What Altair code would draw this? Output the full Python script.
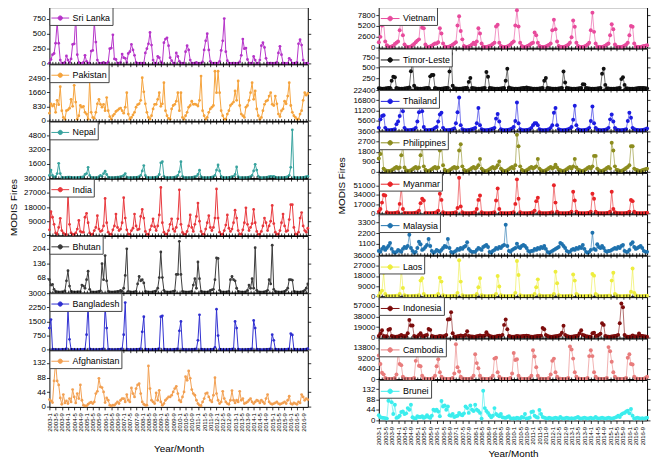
import altair as alt
import pandas as pd

FONT = "Liberation Sans"
MONTHS = list(range(168))
LABEL_MONTHS = list(range(0, 168, 4))
MINOR_MONTHS = list(range(0, 168, 2))

# ---------------- South Asia (left) ----------------
SRI_LANKA = [
    10, 70, 150, 170, 340, 690, 340, 60, 10, 5, 20, 130,
    60, 20, 80, 320, 330, 780, 150, 20, 5, 5, 20, 140,
    40, 10, 5, 210, 220, 690, 360, 60, 10, 5, 10, 20,
    5, 5, 30, 250, 260, 480, 80, 70, 10, 5, 20, 160,
    100, 90, 20, 170, 200, 320, 230, 140, 20, 5, 5, 10,
    5, 10, 180, 250, 330, 520, 310, 60, 10, 5, 120, 100,
    30, 5, 350, 410, 430, 300, 100, 50, 10, 5, 180, 120,
    40, 10, 5, 10, 200, 300, 230, 60, 10, 5, 10, 20,
    5, 5, 10, 30, 230, 380, 500, 230, 40, 10, 5, 10,
    5, 10, 40, 220, 380, 750, 200, 50, 10, 5, 5, 10,
    5, 5, 10, 30, 140, 410, 250, 260, 70, 10, 5, 10,
    120, 60, 5, 10, 60, 300, 350, 270, 90, 10, 5, 10,
    5, 5, 10, 20, 180, 290, 150, 10, 5, 5, 5, 90,
    60, 10, 5, 10, 20, 330, 400, 310, 60, 5, 5, 10,
]
PAKISTAN = [
    450, 1000, 870, 970, 500, 1200, 950, 2000, 600, 200, 100, 600,
    650, 740, 1260, 850, 2080, 1100, 100, 300, 900, 800, 850, 500,
    400, 100, 2370, 500, 200, 150, 500, 1000, 1260, 970, 800, 970,
    600, 1360, 600, 250, 100, 300, 400, 550, 620, 700, 750, 600,
    450, 800, 1650, 400, 100, 200, 350, 500, 800, 950, 1000, 1200,
    2520, 1700, 1000, 500, 200, 100, 300, 700, 970, 970, 1260, 1650,
    850, 1000, 2230, 600, 300, 150, 100, 700, 900, 970, 1150, 1650,
    600, 1650, 200, 100, 300, 500, 800, 900, 1150, 970, 980, 950,
    870, 1200, 2620, 600, 300, 100, 200, 500, 700, 800, 900, 2900,
    1650, 2900, 1650, 600, 300, 100, 100, 400, 600, 900, 1000, 1100,
    1750, 1200, 2330, 900, 400, 300, 200, 800, 900, 1200, 1650, 2230,
    1260, 1750, 700, 300, 100, 200, 600, 970, 1150, 1200, 1450, 1650,
    970, 900, 1450, 1000, 400, 250, 600, 700, 1150, 1000, 1450, 2230,
    900, 500, 300, 200, 100, 100, 400, 600, 1200, 1650, 1500, 1600,
]
NEPAL = [
    300, 900, 300, 100, 150, 500, 1650, 500, 80, 50, 60, 80,
    100, 120, 80, 50, 40, 50, 60, 80, 100, 120, 150, 400,
    500, 1200, 300, 80, 50, 40, 50, 60, 150, 300, 200, 500,
    770, 400, 100, 50, 40, 50, 60, 80, 100, 120, 150, 200,
    300, 500, 100, 50, 40, 50, 60, 70, 90, 100, 150, 300,
    800, 1400, 300, 80, 50, 40, 50, 60, 80, 100, 150, 400,
    1700, 1830, 200, 60, 40, 40, 50, 60, 80, 100, 150, 300,
    700, 1830, 200, 60, 40, 40, 50, 60, 80, 100, 150, 200,
    400, 880, 150, 60, 40, 40, 50, 60, 80, 100, 150, 300,
    900, 1460, 800, 200, 50, 40, 50, 60, 80, 100, 150, 200,
    400, 1240, 150, 60, 40, 40, 50, 60, 80, 100, 150, 300,
    800, 1540, 900, 200, 50, 40, 50, 60, 80, 100, 150, 200,
    150, 200, 100, 60, 40, 40, 50, 60, 80, 100, 150, 300,
    1200, 5380, 100, 60, 40, 40, 50, 60, 80, 100, 150, 200,
]
INDIA = [
    3500, 15000, 11500, 7000, 1500, 800, 5000, 10800, 3000, 1500, 600, 500,
    27500, 7000, 1500, 600, 500, 1500, 4000, 9500, 2500, 2000, 2000, 11500,
    14000, 8000, 1500, 500, 800, 3000, 5000, 12500, 4000, 2500, 3000, 6000,
    23500, 8000, 2000, 800, 500, 3500, 6000, 13500, 5000, 3000, 4000, 8000,
    24000, 11000, 3500, 800, 600, 3000, 4500, 13500, 6000, 3500, 4000, 12000,
    16500, 11000, 2500, 800, 500, 3500, 6000, 10500, 5500, 3000, 6000, 13000,
    30500, 8000, 2000, 700, 800, 3000, 7000, 10500, 4000, 2500, 5000, 10500,
    29000, 7000, 1800, 700, 800, 2500, 6000, 13000, 5000, 2500, 7000, 12000,
    20500, 9000, 2500, 800, 600, 4000, 8000, 12500, 5000, 3000, 5000, 11000,
    29500, 11000, 2000, 600, 700, 3000, 6500, 13000, 4500, 2500, 4000, 8000,
    16000, 11000, 3000, 800, 700, 3500, 8000, 17500, 7000, 3000, 5000, 7500,
    16500, 8000, 2500, 600, 800, 2500, 6000, 11000, 8000, 3000, 6000, 9000,
    19000, 7500, 2000, 700, 800, 3000, 8000, 13500, 6000, 2500, 3000, 10000,
    19500, 19500, 5000, 800, 700, 2000, 11000, 14500, 6000, 3000, 2000, 4500,
]
BHUTAN = [
    60, 35, 38, 15, 5, 3, 2, 2, 3, 3, 8, 55,
    102, 30, 5, 3, 2, 2, 3, 3, 3, 35, 30, 20,
    60, 100, 15, 3, 2, 2, 2, 3, 5, 8, 135, 60,
    173, 55, 5, 3, 2, 2, 3, 3, 5, 5, 10, 5,
    20, 80, 205, 5, 3, 2, 2, 3, 5, 40, 75, 55,
    60, 45, 5, 3, 2, 2, 2, 3, 5, 8, 20, 70,
    190, 70, 10, 3, 2, 2, 2, 3, 5, 8, 85, 85,
    240, 85, 5, 3, 2, 2, 2, 3, 5, 35, 65, 20,
    143, 65, 5, 3, 2, 2, 2, 3, 10, 12, 15, 60,
    162, 160, 10, 3, 2, 2, 2, 3, 5, 60, 75, 60,
    55, 20, 5, 3, 2, 2, 2, 3, 10, 35, 20, 65,
    20, 210, 10, 3, 2, 2, 2, 3, 5, 10, 60, 40,
    222, 15, 5, 3, 2, 2, 2, 3, 5, 10, 20, 60,
    60, 58, 5, 3, 2, 2, 2, 3, 5, 10, 20, 40,
]
BANGLADESH = [
    1150, 1600, 30, 10, 5, 5, 5, 5, 10, 10, 20, 50,
    2150, 550, 20, 10, 5, 5, 5, 5, 10, 10, 20, 30,
    800, 2400, 40, 10, 5, 5, 5, 5, 10, 20, 30, 40,
    2300, 1150, 20, 10, 5, 5, 5, 5, 10, 20, 30, 40,
    800, 2500, 30, 10, 5, 5, 5, 5, 10, 20, 30, 40,
    950, 1750, 30, 10, 5, 5, 5, 5, 10, 20, 30, 60,
    1750, 1800, 30, 10, 5, 5, 5, 5, 10, 20, 30, 40,
    1000, 1500, 30, 10, 5, 5, 5, 5, 10, 20, 30, 40,
    500, 1850, 30, 10, 5, 5, 5, 5, 10, 20, 30, 120,
    2150, 750, 30, 10, 5, 5, 5, 5, 10, 20, 30, 40,
    1500, 1150, 30, 10, 5, 5, 5, 5, 10, 20, 30, 40,
    1550, 1150, 30, 10, 5, 5, 5, 5, 10, 20, 30, 40,
    800, 500, 30, 10, 5, 5, 5, 5, 10, 20, 30, 40,
    850, 780, 30, 10, 5, 5, 5, 5, 10, 20, 30, 60,
]
AFGHANISTAN = [
    22, 18, 13, 78, 135, 78, 66, 27, 8, 37, 12, 18,
    10, 25, 15, 52, 30, 12, 40, 25, 66, 20, 5, 3,
    3, 8, 12, 14, 10, 15, 40, 47, 86, 60, 58, 45,
    13, 27, 20, 5, 3, 5, 5, 10, 15, 10, 20, 25,
    25, 15, 37, 20, 15, 57, 40, 30, 55, 66, 70, 40,
    15, 8, 5, 5, 123, 55, 20, 15, 10, 42, 20, 50,
    15, 5, 10, 20, 25, 30, 30, 35, 45, 55, 62, 40,
    20, 15, 30, 45, 91, 80, 108, 86, 52, 40, 35, 20,
    10, 5, 3, 15, 25, 40, 42, 30, 20, 15, 35, 88,
    40, 20, 10, 15, 47, 25, 15, 10, 8, 20, 49, 20,
    12, 20, 15, 47, 20, 25, 10, 12, 15, 20, 25, 15,
    10, 15, 20, 18, 12, 20, 15, 10, 25, 37, 15, 10,
    8, 10, 12, 15, 10, 8, 10, 12, 15, 10, 20, 32,
    10, 8, 12, 10, 8, 15, 12, 37, 30, 20, 25, 22,
]

# ---------------- Southeast Asia (right) ----------------
VIETNAM = [
    1300, 2600, 5300, 5900, 1500, 600, 300, 200, 300, 500, 900, 1200,
    1500, 4200, 7550, 3000, 800, 300, 200, 200, 300, 600, 900, 1300,
    1700, 2000, 6500, 4800, 4650, 800, 300, 200, 300, 500, 800, 1000,
    1000, 1300, 4650, 3400, 1000, 300, 200, 200, 300, 500, 700, 1000,
    1300, 5300, 7550, 4000, 2000, 400, 200, 200, 300, 500, 800, 1200,
    800, 1500, 4650, 3400, 1000, 300, 200, 200, 300, 400, 600, 900,
    1200, 5060, 5480, 1200, 400, 200, 200, 200, 300, 500, 800, 1200,
    1500, 5300, 8960, 5060, 1200, 400, 200, 200, 300, 500, 700, 1000,
    1200, 3650, 3000, 1200, 400, 200, 200, 200, 300, 500, 700, 1000,
    4200, 6700, 4400, 1500, 400, 200, 200, 200, 300, 500, 800, 1200,
    2500, 6500, 5000, 1200, 400, 200, 200, 200, 300, 500, 800, 1200,
    4200, 8400, 3800, 1000, 300, 200, 200, 200, 300, 500, 800, 1000,
    3000, 5600, 4400, 800, 300, 200, 200, 200, 300, 500, 800, 1200,
    3000, 5200, 5000, 1000, 300, 200, 200, 200, 300, 400, 500, 600,
]
TIMOR_LESTE = [
    20, 15, 10, 10, 15, 20, 25, 30, 195, 290, 280, 30,
    15, 10, 10, 10, 15, 20, 25, 40, 420, 630, 80, 20,
    15, 10, 10, 10, 15, 20, 25, 30, 300, 330, 330, 30,
    15, 10, 10, 10, 15, 20, 25, 30, 415, 830, 80, 20,
    15, 10, 10, 10, 15, 20, 25, 30, 170, 260, 30, 20,
    15, 10, 10, 10, 15, 20, 30, 400, 290, 30, 20, 15,
    10, 10, 10, 10, 15, 20, 25, 195, 480, 40, 20, 15,
    10, 10, 10, 10, 15, 20, 25, 30, 40, 30, 20, 15,
    10, 10, 10, 10, 15, 20, 25, 195, 260, 30, 20, 15,
    10, 10, 10, 10, 15, 20, 30, 415, 155, 30, 20, 15,
    10, 10, 10, 10, 15, 20, 25, 115, 110, 30, 20, 15,
    10, 10, 10, 10, 15, 20, 30, 360, 480, 100, 20, 15,
    10, 10, 10, 10, 15, 20, 30, 235, 280, 100, 20, 15,
    10, 10, 10, 10, 15, 20, 25, 30, 30, 25, 20, 15,
]
THAILAND = [
    1500, 6200, 8000, 8500, 1500, 300, 200, 200, 300, 500, 800, 3560,
    5000, 8000, 14800, 10700, 1500, 300, 200, 200, 300, 500, 800, 1500,
    5000, 10100, 15000, 10700, 2000, 300, 200, 200, 300, 500, 800, 1500,
    2000, 5000, 8900, 9800, 1500, 300, 200, 200, 300, 500, 800, 1200,
    4000, 10100, 18300, 3000, 800, 300, 200, 200, 300, 500, 800, 1000,
    1500, 4000, 12500, 3000, 800, 300, 200, 200, 300, 500, 800, 1000,
    1500, 6600, 9200, 5000, 800, 300, 200, 200, 300, 500, 800, 1200,
    2000, 5300, 15500, 4000, 800, 300, 200, 200, 300, 500, 800, 1500,
    3000, 4000, 4000, 3000, 800, 300, 200, 200, 300, 500, 800, 1500,
    3000, 9800, 12500, 3000, 800, 300, 200, 200, 300, 500, 800, 1200,
    2000, 6000, 13700, 3000, 800, 300, 200, 200, 300, 500, 800, 1500,
    5300, 13300, 4000, 1500, 600, 300, 200, 200, 300, 500, 800, 1500,
    6200, 8900, 5000, 1500, 600, 300, 200, 200, 300, 500, 800, 5300,
    9800, 7100, 1500, 800, 500, 300, 200, 200, 300, 500, 800, 1200,
]
PHILIPPINES = [
    1200, 1600, 2300, 300, 150, 100, 100, 100, 150, 250, 350, 450,
    300, 400, 1490, 2330, 400, 150, 100, 100, 150, 250, 350, 450,
    300, 400, 1490, 2330, 500, 200, 100, 100, 150, 250, 350, 450,
    300, 400, 1900, 2470, 600, 200, 100, 100, 150, 250, 350, 450,
    300, 400, 1900, 2470, 500, 200, 100, 100, 150, 250, 350, 450,
    300, 400, 600, 1160, 300, 150, 100, 100, 150, 250, 350, 450,
    300, 400, 600, 930, 300, 150, 100, 100, 150, 250, 350, 450,
    300, 600, 3300, 2280, 500, 200, 100, 100, 150, 250, 350, 450,
    300, 400, 500, 1150, 300, 150, 100, 100, 150, 250, 350, 450,
    300, 400, 650, 400, 200, 150, 100, 100, 150, 250, 350, 450,
    300, 500, 1150, 400, 200, 150, 100, 100, 150, 250, 350, 450,
    300, 500, 1430, 1430, 300, 150, 100, 100, 150, 250, 350, 450,
    300, 2600, 1900, 500, 200, 150, 100, 100, 150, 250, 350, 450,
    600, 2280, 2280, 300, 200, 150, 100, 100, 150, 200, 250, 300,
]
MYANMAR = [
    3000, 8000, 20000, 34000, 33000, 2000, 500, 300, 300, 500, 800, 1500,
    2000, 17600, 49000, 8000, 1000, 500, 300, 300, 300, 500, 800, 1500,
    2000, 5000, 19000, 27000, 24000, 1000, 300, 300, 300, 500, 800, 1500,
    2000, 5000, 36500, 25000, 2000, 500, 300, 300, 300, 500, 800, 1500,
    2000, 10000, 66000, 13000, 2000, 500, 300, 300, 300, 500, 800, 1500,
    2000, 8000, 25000, 33000, 2000, 500, 300, 300, 300, 500, 800, 1500,
    2000, 24000, 46000, 8000, 1000, 500, 300, 300, 300, 500, 800, 1500,
    2000, 17600, 63000, 27000, 2000, 500, 300, 300, 300, 500, 800, 1500,
    2000, 5000, 22700, 29000, 2000, 500, 300, 300, 300, 500, 800, 1500,
    2000, 52000, 20000, 3000, 1000, 500, 300, 300, 300, 500, 800, 1500,
    3000, 40000, 24000, 3000, 1000, 500, 300, 300, 300, 500, 800, 1500,
    3000, 36500, 27000, 3000, 1000, 500, 300, 300, 300, 500, 800, 1500,
    3000, 40000, 8000, 2000, 1000, 500, 300, 300, 300, 500, 800, 1500,
    3000, 25000, 22700, 3000, 1000, 500, 300, 300, 300, 500, 800, 1500,
]
MALAYSIA = [
    400, 300, 600, 800, 500, 700, 900, 1200, 600, 300, 200, 300,
    500, 400, 300, 600, 800, 700, 900, 2030, 700, 400, 200, 300,
    700, 1320, 1070, 500, 600, 800, 1000, 1600, 900, 400, 200, 300,
    500, 400, 300, 500, 700, 900, 800, 1600, 700, 300, 200, 300,
    400, 600, 500, 700, 600, 800, 900, 1265, 600, 400, 300, 300,
    300, 500, 700, 600, 500, 800, 900, 1000, 800, 300, 200, 400,
    500, 700, 600, 800, 700, 900, 1000, 3050, 900, 400, 300, 500,
    600, 700, 1130, 800, 700, 900, 1000, 900, 700, 400, 300, 400,
    400, 600, 500, 700, 600, 800, 700, 900, 600, 300, 200, 300,
    400, 500, 600, 700, 800, 1200, 1100, 900, 700, 400, 300, 300,
    500, 600, 500, 700, 600, 800, 700, 1000, 600, 300, 200, 300,
    500, 2230, 600, 500, 1070, 800, 700, 900, 700, 400, 300, 400,
    400, 500, 600, 700, 600, 800, 700, 900, 1000, 400, 300, 300,
    500, 1100, 1265, 800, 600, 700, 800, 900, 700, 400, 300, 300,
]
LAOS = [
    500, 3000, 5000, 20900, 2000, 300, 100, 100, 100, 200, 300, 500,
    500, 2000, 24600, 7250, 1000, 300, 100, 100, 100, 200, 300, 500,
    500, 1000, 13900, 16000, 2000, 300, 100, 100, 100, 200, 300, 500,
    500, 2000, 16500, 13000, 1000, 300, 100, 100, 100, 200, 300, 500,
    500, 3000, 31900, 13000, 1000, 300, 100, 100, 100, 200, 300, 500,
    500, 2000, 8000, 16000, 1000, 300, 100, 100, 100, 200, 300, 500,
    500, 2000, 18000, 8700, 1000, 300, 100, 100, 100, 200, 300, 500,
    500, 3000, 31300, 18850, 1000, 300, 100, 100, 100, 200, 300, 500,
    500, 2000, 8000, 15000, 1000, 300, 100, 100, 100, 200, 300, 500,
    500, 2000, 21750, 11600, 1000, 300, 100, 100, 100, 200, 300, 500,
    500, 19400, 13900, 2000, 1000, 300, 100, 100, 100, 200, 300, 500,
    500, 19700, 18300, 2000, 1000, 300, 100, 100, 100, 200, 300, 500,
    500, 13900, 20900, 2000, 1000, 300, 100, 100, 100, 200, 300, 500,
    500, 4000, 24600, 3000, 1000, 300, 100, 100, 100, 200, 300, 500,
]
INDONESIA = [
    3000, 7500, 13200, 3000, 2000, 2500, 14400, 15500, 3000, 2000, 1500, 1500,
    2000, 3000, 5000, 3000, 2500, 3000, 8000, 31700, 21900, 22000, 3000, 1500,
    2000, 5000, 8000, 3000, 2500, 4000, 5000, 15500, 14000, 3000, 2000, 1500,
    1500, 2000, 3000, 2500, 2000, 3000, 5000, 32800, 33000, 46000, 8000, 2000,
    1500, 2500, 3000, 4000, 3000, 3000, 5000, 11500, 3000, 2000, 2000, 1500,
    1500, 2500, 3000, 4000, 3000, 3000, 4000, 9800, 5000, 3000, 2000, 1500,
    1500, 2000, 3000, 3500, 3000, 5000, 23000, 32800, 15000, 3000, 2000, 1500,
    1500, 2000, 3000, 2500, 2000, 2500, 3000, 3000, 3500, 3000, 2000, 1500,
    1500, 2000, 2500, 3000, 3000, 3500, 17300, 15000, 5000, 3000, 2000, 1500,
    1500, 2000, 2500, 3000, 3500, 5000, 9000, 21300, 5000, 3000, 2000, 1500,
    1500, 2000, 2500, 3000, 3500, 8000, 13200, 5000, 4000, 2500, 2000, 1500,
    1500, 8000, 9000, 3000, 3500, 5000, 7000, 25900, 23000, 3000, 2000, 1500,
    1500, 2000, 2500, 3000, 3500, 5000, 25900, 61600, 54700, 5000, 2000, 1500,
    1500, 2000, 4000, 2500, 2000, 2500, 7500, 3500, 3000, 2500, 2000, 1500,
]
CAMBODIA = [
    10500, 6700, 2800, 2100, 500, 200, 100, 100, 100, 200, 500, 2000,
    12400, 6700, 6200, 1000, 300, 200, 100, 100, 100, 200, 500, 8100,
    11600, 5900, 5700, 1500, 400, 200, 100, 100, 100, 200, 500, 1500,
    5700, 8800, 3000, 1000, 300, 200, 100, 100, 100, 200, 500, 2500,
    15500, 5300, 3400, 1000, 300, 200, 100, 100, 100, 200, 500, 1500,
    11000, 7100, 4800, 1500, 300, 200, 100, 100, 100, 200, 500, 1500,
    9100, 9500, 3000, 1000, 300, 200, 100, 100, 100, 200, 500, 2500,
    11600, 8500, 8800, 1500, 300, 200, 100, 100, 100, 200, 500, 1500,
    12800, 10000, 5300, 1500, 300, 200, 100, 100, 100, 200, 500, 2000,
    8100, 9100, 3000, 1000, 300, 200, 100, 100, 100, 200, 500, 14500,
    13100, 9100, 3000, 1000, 300, 200, 100, 100, 100, 200, 500, 10200,
    12800, 10200, 3000, 1000, 300, 200, 100, 100, 100, 200, 500, 14200,
    12400, 7700, 3000, 1000, 300, 200, 100, 100, 100, 200, 500, 9500,
    11000, 6700, 6500, 1000, 300, 200, 100, 100, 100, 200, 500, 1000,
]
BRUNEI = [
    22, 14, 12, 11, 10, 8, 83, 121, 77, 27, 66, 11,
    14, 20, 36, 38, 27, 30, 52, 45, 66, 14, 10, 8,
    18, 15, 15, 18, 11, 15, 22, 15, 11, 20, 45, 41,
    45, 38, 18, 82, 59, 63, 45, 59, 22, 20, 27, 15,
    18, 20, 32, 25, 22, 30, 59, 52, 32, 63, 45, 40,
    66, 45, 40, 32, 8, 125, 52, 40, 32, 22, 14, 20,
    52, 27, 22, 18, 27, 14, 12, 11, 15, 18, 10, 8,
    10, 8, 12, 10, 8, 15, 12, 27, 8, 10, 12, 36,
    38, 20, 15, 12, 44, 27, 15, 12, 10, 8, 12, 10,
    8, 10, 12, 10, 8, 15, 10, 8, 10, 12, 10, 8,
    10, 8, 10, 12, 15, 10, 8, 10, 12, 10, 8, 10,
    12, 8, 10, 15, 10, 8, 10, 12, 10, 8, 10, 12,
    10, 8, 10, 12, 15, 20, 15, 25, 30, 32, 38, 41,
    30, 48, 20, 8, 10, 12, 10, 8, 10, 8, 10, 12,
]

# name, values, color, y max, y tick labels
LEFT = [
    ("Sri Lanka", SRI_LANKA, "#B533C8", 940, [0, 250, 500, 750]),
    ("Pakistan", PAKISTAN, "#F5A33C", 3300, [0, 830, 1660, 2490]),
    ("Nepal", NEPAL, "#38A39E", 6300, [1600, 3200, 4800]),
    ("India", INDIA, "#E8383D", 36000, [0, 9000, 18000, 27000, 36000]),
    ("Bhutan", BHUTAN, "#3A3A3A", 265, [68, 136, 204]),
    ("Bangladesh", BANGLADESH, "#2F2FD0", 3000, [0, 750, 1500, 2250, 3000]),
    ("Afghanistan", AFGHANISTAN, "#F2A052", 170, [0, 44, 88, 132]),
]
RIGHT = [
    ("Vietnam", VIETNAM, "#E84A9C", 9700, [0, 2600, 5200, 7800]),
    ("Timor-Leste", TIMOR_LESTE, "#111111", 950, [250, 500, 750]),
    ("Thailand", THAILAND, "#1C1CE0", 22400, [5600, 11200, 16800, 22400]),
    ("Philippines", PHILIPPINES, "#8C8C1E", 3600, [0, 900, 1800, 2700, 3600]),
    ("Myanmar", MYANMAR, "#E82428", 75000, [0, 17000, 34000, 51000]),
    ("Malaysia", MALAYSIA, "#1F72AE", 4100, [1100, 2200, 3300]),
    ("Laos", LAOS, "#EDED3E", 36000, [0, 9000, 18000, 27000, 36000]),
    ("Indonesia", INDONESIA, "#7D0C0C", 73000, [0, 19000, 38000, 57000]),
    ("Cambodia", CAMBODIA, "#E87C7C", 18000, [0, 4600, 9200, 13800]),
    ("Brunei", BRUNEI, "#3BEDED", 170, [0, 44, 88, 132]),
]

SYM_PATH = "M-1,0L1,0M-0.24,0A0.24,0.24,0,1,1,0.24,0A0.24,0.24,0,1,1,-0.24,0"


def panel(name, values, color, ymax, yticks, w, h, last, ytitle, right):
    df = pd.DataFrame({"m": MONTHS, "v": values, "c": [name] * len(values)})
    xs = alt.Scale(domain=[0, 167], nice=False, zero=False)
    ys = alt.Scale(domain=[0, ymax], nice=False, zero=False)
    xa = dict(values=LABEL_MONTHS, tickSize=3, domain=False, grid=False, labels=last)
    if last:
        xa.update(
            labelExpr="(2003 + floor(datum.value / 12)) + '-' + (datum.value % 12 + 1)",
            labelAngle=-90, labelFontSize=6, labelAlign="right", labelBaseline="middle",
            labelPadding=3, labelOverlap=False, labelFlush=False,
            title="Year/Month", titleFontSize=10, titleFontWeight="normal",
            titlePadding=4 if right else 13,
        )
    else:
        xa.update(title=None)
    ya = dict(values=yticks, format="d", tickSize=3, domain=False, grid=False, labelFontSize=8,
              labelPadding=1, labelOverlap=False, labelFlush=False)
    if ytitle:
        ya.update(title="MODIS Fires", titleFontSize=10, titleFontWeight="normal",
                  titlePadding=5 if not right else 7)
        if right:
            ya.update(titleY=h / 2 - 8)
    else:
        ya.update(title=None)
    legend = alt.Legend(
        title=None, orient="top-left", offset=0, padding=1.5, fillColor="white",
        strokeColor="#444444", labelFontSize=9, labelFont=FONT, labelOffset=3,
        symbolType=SYM_PATH, symbolSize=324 if not right else 361, symbolStrokeWidth=1,
        symbolFillColor=color, symbolStrokeColor=color, cornerRadius=0,
    )
    if right:
        mark = alt.Chart(df).mark_line(
            strokeWidth=0.6, color=color,
            point=alt.OverlayMarkDef(filled=True, size=16, opacity=1),
        )
    else:
        mark = alt.Chart(df).mark_line(
            strokeWidth=1, color=color,
            point=alt.OverlayMarkDef(filled=True, size=8, opacity=1),
        )
    main = mark.encode(
        x=alt.X("m:Q", scale=xs, axis=alt.Axis(**xa)),
        y=alt.Y("v:Q", scale=ys, axis=alt.Axis(**ya)),
        color=alt.Color("c:N", scale=alt.Scale(domain=[name], range=[color]), legend=legend),
    )
    ghost = alt.Chart(df).mark_point(opacity=0).encode(
        x=alt.X("m:Q", scale=xs, axis=alt.Axis(orient="top", values=MINOR_MONTHS, labels=False,
                                                tickSize=3, domain=False, grid=False, title=None)),
        y=alt.Y("v:Q", scale=ys, axis=alt.Axis(orient="right", values=yticks, labels=False,
                                                tickSize=3, domain=False, grid=False, title=None)),
    )
    return alt.layer(main, ghost).resolve_axis(x="independent", y="independent").properties(
        width=w, height=h)


left_panels = [
    panel(n, v, c, m, t, 262, 57.3, i == len(LEFT) - 1, n == "India", False)
    for i, (n, v, c, m, t) in enumerate(LEFT)
]
right_panels = [
    panel(n, v, c, m, t, 272, 41.1, i == len(RIGHT) - 1, n == "Myanmar", True)
    for i, (n, v, c, m, t) in enumerate(RIGHT)
]

left = alt.vconcat(*left_panels, spacing=0, bounds="flush").resolve_scale(
    x="independent", y="independent", color="independent")
right = alt.vconcat(*right_panels, spacing=0, bounds="flush").resolve_scale(
    x="independent", y="independent", color="independent")

chart = alt.hconcat(left, right, spacing=24).resolve_scale(
    color="independent"
).properties(
    padding={"left": 0, "top": -8, "right": 0, "bottom": 0}
).configure_view(
    stroke="black", strokeWidth=1
).configure_axis(
    labelFont=FONT, titleFont=FONT, tickColor="black", labelColor="black",
    titleColor="black", tickWidth=0.8,
).configure_legend(
    labelFont=FONT
)

chart.save("out.html", embed_options={"renderer": "svg", "actions": False})
